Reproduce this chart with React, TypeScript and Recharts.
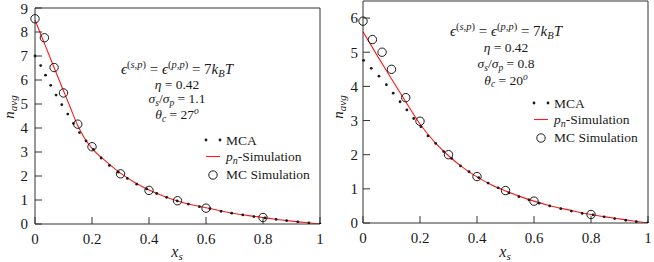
import { ComposedChart, Line, Scatter, XAxis, YAxis } from 'recharts';

const serif = 'Liberation Serif, Times New Roman, DejaVu Serif, serif';
const ink = '#1a1a1a';
const frame = '#333';

const xTicks = [0, 0.2, 0.4, 0.6, 0.8, 1];
const xTopTicks = [0.2, 0.4, 0.6, 0.8];

// left panel: sigma_s/sigma_p = 1.1, theta_c = 27
const leftYTicks = [0, 1, 2, 3, 4, 5, 6, 7, 8, 9];
const leftMcaX = [0, 0.02, 0.037, 0.055, 0.074, 0.094, 0.115, 0.135, 0.156, 0.179, 0.205, 0.232, 0.261, 0.292, 0.324, 0.357, 0.392, 0.427, 0.462, 0.499, 0.538, 0.577, 0.614, 0.653, 0.69, 0.729, 0.768, 0.807, 0.846, 0.883, 0.922, 0.961, 1];
const leftMcaY = [7.0, 6.6, 6.2, 5.78, 5.37, 4.97, 4.58, 4.19, 3.81, 3.46, 3.11, 2.75, 2.44, 2.16, 1.9, 1.66, 1.46, 1.27, 1.11, 0.96, 0.83, 0.72, 0.64, 0.53, 0.45, 0.38, 0.31, 0.25, 0.19, 0.14, 0.09, 0.05, 0];
const leftMcX = [0, 0.033, 0.067, 0.1, 0.15, 0.2, 0.3, 0.4, 0.5, 0.6, 0.8];
const leftMcY = [8.55, 7.76, 6.52, 5.46, 4.16, 3.22, 2.09, 1.4, 0.97, 0.66, 0.27];
const leftCurveX = [0, 0.025, 0.05, 0.075, 0.1, 0.125, 0.15, 0.175, 0.2, 0.25, 0.3, 0.35, 0.4, 0.45, 0.5, 0.55, 0.6, 0.65, 0.7, 0.75, 0.8, 0.85, 0.9, 0.95, 1];
const leftCurveY = [8.5, 7.76, 7.02, 6.28, 5.55, 4.82, 4.1, 3.55, 3.15, 2.6, 2.12, 1.73, 1.42, 1.17, 0.96, 0.8, 0.68, 0.55, 0.44, 0.35, 0.27, 0.19, 0.12, 0.06, 0];

// right panel: sigma_s/sigma_p = 0.8, theta_c = 20
const rightYTicks = [0, 1, 2, 3, 4, 5, 6];
const rightMcaX = [0.002, 0.029, 0.056, 0.082, 0.106, 0.13, 0.154, 0.178, 0.203, 0.228, 0.255, 0.283, 0.311, 0.342, 0.372, 0.406, 0.439, 0.474, 0.512, 0.547, 0.582, 0.618, 0.655, 0.694, 0.731, 0.769, 0.807, 0.846, 0.883, 0.922, 0.959, 0.998];
const rightMcaY = [4.76, 4.53, 4.3, 4.05, 3.8, 3.55, 3.31, 3.06, 2.82, 2.55, 2.33, 2.09, 1.89, 1.67, 1.5, 1.33, 1.17, 1.03, 0.88, 0.77, 0.68, 0.58, 0.5, 0.42, 0.35, 0.28, 0.24, 0.18, 0.13, 0.08, 0.04, 0];
const rightMcX = [0, 0.033, 0.067, 0.1, 0.15, 0.2, 0.3, 0.4, 0.5, 0.6, 0.8];
const rightMcY = [5.91, 5.37, 5.0, 4.5, 3.67, 2.98, 2.0, 1.36, 0.95, 0.64, 0.25];
const rightCurveX = [0, 0.05, 0.1, 0.15, 0.2, 0.25, 0.3, 0.35, 0.4, 0.45, 0.5, 0.55, 0.6, 0.65, 0.7, 0.75, 0.8, 0.85, 0.9, 0.95, 1];
const rightCurveY = [5.6, 4.9, 4.22, 3.55, 2.9, 2.38, 1.97, 1.63, 1.35, 1.12, 0.94, 0.78, 0.64, 0.52, 0.42, 0.33, 0.25, 0.18, 0.12, 0.06, 0];

const zip = (xs: number[], ys: number[]) => xs.map((x, i) => ({ x, y: ys[i] }));

const McaDot = (props: any) => <circle cx={props.cx} cy={props.cy} r={1.4} fill={ink} />;
const McCircle = (props: any) => (
    <circle cx={props.cx} cy={props.cy} r={4.2} fill="none" stroke={ink} strokeWidth={1} />
);

interface PanelProps {
    width: number;
    margin: { top: number; right: number; bottom: number; left: number };
    yWidth: number;
    xHeight: number;
    yMax: number;
    yTicks: number[];
    yTickMargin: number;
    curve: { x: number; y: number }[];
    mca: { x: number; y: number }[];
    mc: { x: number; y: number }[];
}

const tickFont = { fontFamily: serif, fontSize: 15, fill: ink, style: { fontFamily: serif } };

const Panel = ({ width, margin, yWidth, xHeight, yMax, yTicks, yTickMargin, curve, mca, mc }: PanelProps) => (
    <ComposedChart width={width} height={262} margin={margin} style={{ fontFamily: serif }}>
        <XAxis
            xAxisId="b"
            dataKey="x"
            type="number"
            domain={[0, 1]}
            ticks={xTicks}
            height={xHeight}
            tickSize={-7}
            tickMargin={16}
            tick={tickFont}
            axisLine={{ stroke: frame }}
            tickLine={{ stroke: frame }}
        />
        <XAxis
            xAxisId="t"
            orientation="top"
            type="number"
            domain={[0, 1]}
            ticks={xTopTicks}
            height={1}
            tickSize={-7}
            tick={false}
            axisLine={{ stroke: frame }}
            tickLine={{ stroke: frame }}
        />
        <YAxis
            yAxisId="l"
            type="number"
            domain={[0, yMax]}
            ticks={yTicks}
            width={yWidth}
            tickSize={-7}
            tickMargin={yTickMargin}
            tick={tickFont}
            axisLine={{ stroke: frame }}
            tickLine={{ stroke: frame }}
            allowDataOverflow
        />
        <YAxis
            yAxisId="r"
            orientation="right"
            type="number"
            domain={[0, yMax]}
            ticks={yTicks}
            width={1}
            tickSize={-7}
            tick={false}
            axisLine={{ stroke: frame }}
            tickLine={{ stroke: frame }}
        />
        <Line
            xAxisId="b"
            yAxisId="l"
            data={curve}
            dataKey="y"
            type="monotone"
            stroke="#ff1a1a"
            strokeWidth={1.1}
            dot={false}
            activeDot={false}
            isAnimationActive={false}
        />
        <Scatter xAxisId="b" yAxisId="l" data={mca} dataKey="y" shape={McaDot} isAnimationActive={false} />
        <Scatter xAxisId="b" yAxisId="l" data={mc} dataKey="y" shape={McCircle} isAnimationActive={false} />
    </ComposedChart>
);

const it = { fontStyle: 'italic' as const };

const Notes = ({ cx, base, ratio, angle }: { cx: number; base: number[]; ratio: string; angle: string }) => (
    <g style={{ fontFamily: serif }} fontSize={13.5} fill={ink} textAnchor="middle">
        <text x={cx} y={base[0]} fontSize={15}>
            <tspan {...it}>ϵ</tspan>
            <tspan fontSize={10.5} dy={-6}>(<tspan {...it}>s</tspan>,<tspan {...it}>p</tspan>)</tspan>
            <tspan dy={6}> = </tspan>
            <tspan {...it}>ϵ</tspan>
            <tspan fontSize={10.5} dy={-6}>(<tspan {...it}>p</tspan>,<tspan {...it}>p</tspan>)</tspan>
            <tspan dy={6}> = 7</tspan>
            <tspan {...it}>k</tspan>
            <tspan {...it} fontSize={10.5} dy={3}>B</tspan>
            <tspan {...it} dy={-3}>T</tspan>
        </text>
        <text x={cx} y={base[1]}>
            <tspan {...it}>η</tspan> = 0.42
        </text>
        <text x={cx} y={base[2]}>
            <tspan {...it}>σ</tspan>
            <tspan {...it} fontSize={9.5} dy={2.5}>s</tspan>
            <tspan dy={-2.5}>/</tspan>
            <tspan {...it}>σ</tspan>
            <tspan {...it} fontSize={9.5} dy={2.5}>p</tspan>
            <tspan dy={-2.5}> = {ratio}</tspan>
        </text>
        <text x={cx} y={base[3]}>
            <tspan {...it}>θ</tspan>
            <tspan {...it} fontSize={9.5} dy={2.5}>c</tspan>
            <tspan dy={-2.5}> = {angle}</tspan>
            <tspan {...it} fontSize={9.5} dy={-5}>o</tspan>
        </text>
    </g>
);

const LegendBox = ({ x, y }: { x: number; y: number }) => (
    <g style={{ fontFamily: serif }} fontSize={13.5} fill={ink}>
        <circle cx={x - 20} cy={y} r={1.4} fill={ink} />
        <circle cx={x - 6} cy={y} r={1.4} fill={ink} />
        <text x={x} y={y + 4.5}>MCA</text>
        <line x1={x - 20} x2={x - 6} y1={y + 16.5} y2={y + 16.5} stroke="#ff1a1a" strokeWidth={1.1} />
        <text x={x} y={y + 21}>
            <tspan {...it}>p</tspan>
            <tspan {...it} fontSize={10} dy={3}>n</tspan>
            <tspan dy={-3}>-Simulation</tspan>
        </text>
        <circle cx={x - 13} cy={y + 35} r={4.2} fill="none" stroke={ink} strokeWidth={1} />
        <text x={x} y={y + 39}>MC Simulation</text>
    </g>
);

const AxisLabels = ({ cx, ly }: { cx: number; ly: number }) => (
    <g style={{ fontFamily: serif }} fontSize={15} fill={ink}>
        <text x={cx} y={257} textAnchor="middle" fontSize={16}>
            <tspan {...it}>x</tspan>
            <tspan {...it} fontSize={11} dy={3}>s</tspan>
        </text>
        <text x={ly} y={107} textAnchor="middle" transform={`rotate(-90, ${ly}, 107)`}>
            <tspan {...it}>n</tspan>
            <tspan {...it} fontSize={11} dy={3}>avg</tspan>
        </text>
    </g>
);

export default function App() {
    return (
        <div style={{ position: 'absolute', left: 0, top: 0, width: 654, height: 262, background: '#fff', fontFamily: serif }}>
            <div style={{ position: 'absolute', left: 0, top: 0 }}>
                <Panel
                    width={330}
                    margin={{ top: 7, right: 9, bottom: 0, left: 0 }}
                    yWidth={35}
                    xHeight={38}
                    yMax={9}
                    yTicks={leftYTicks}
                    yTickMargin={14}
                    curve={zip(leftCurveX, leftCurveY)}
                    mca={zip(leftMcaX, leftMcaY)}
                    mc={zip(leftMcX, leftMcY)}
                />
            </div>
            <div style={{ position: 'absolute', left: 330, top: 0 }}>
                <Panel
                    width={324}
                    margin={{ top: 0, right: 5, bottom: 0, left: 0 }}
                    yWidth={33}
                    xHeight={39}
                    yMax={6.5}
                    yTicks={rightYTicks}
                    yTickMargin={12}
                    curve={zip(rightCurveX, rightCurveY)}
                    mca={zip(rightMcaX, rightMcaY)}
                    mc={zip(rightMcX, rightMcY)}
                />
            </div>
            <svg width={654} height={262} style={{ position: 'absolute', left: 0, top: 0, pointerEvents: 'none' }}>
                <Notes cx={177} base={[73.5, 88.5, 103, 119]} ratio="1.1" angle="27" />
                <Notes cx={506} base={[36, 52, 68, 84.5]} ratio="0.8" angle="20" />
                <LegendBox x={226} y={140} />
                <LegendBox x={554} y={103} />
                <AxisLabels cx={177} ly={14} />
                <AxisLabels cx={505} ly={343} />
            </svg>
        </div>
    );
}
